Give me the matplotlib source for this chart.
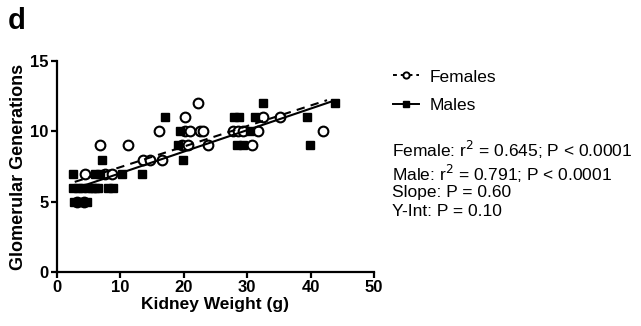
import numpy as np
import matplotlib.pyplot as plt
from matplotlib.lines import Line2D

plt.rcParams['font.family'] = ['Liberation Sans', 'DejaVu Sans']

# Females (open circles)
female_x = [3.2, 4.2, 4.4, 7.6, 8.7, 6.8, 11.2, 13.6, 14.7, 16.6, 16.1, 20.2, 22.3,
            20.2, 21.0, 22.6, 23.1, 19.7, 20.7, 23.8, 27.8, 28.6, 29.4, 31.7, 30.8,
            32.5, 35.2, 42.0]
female_y = [5, 5, 7, 7, 7, 9, 9, 8, 8, 8, 10, 11, 12,
            10, 10, 10, 10, 9, 9, 9, 10, 10, 10, 10, 9,
            11, 11, 10]

# Males (filled squares)
male_x = [2.6, 6.0, 6.8, 10.3, 13.4, 2.6, 3.3, 3.9, 4.9, 5.5, 6.0, 6.5, 8.0, 8.8,
          2.7, 3.7, 4.7, 7.1, 17.0, 19.4, 19.1, 19.9, 28.0, 28.7, 31.2, 39.4,
          30.4, 28.4, 29.3, 39.9, 32.5, 43.8]
male_y = [7, 7, 7, 7, 7, 6, 6, 6, 6, 6, 6, 6, 6, 6,
          5, 5, 5, 8, 11, 10, 9, 8, 11, 11, 11, 11,
          10, 9, 9, 9, 12, 12]

# regression lines (start x, end x, slope, intercept)
female_fit = (2.8, 42.6, 0.146, 6.0)
male_fit = (2.8, 43.8, 0.153, 5.5)

fig = plt.figure(figsize=(6.41, 3.26), dpi=100)
ax = fig.add_axes([0.0889, 0.1656, 0.4945, 0.647])

ax.plot(female_x, female_y, 'o', mfc='white', mec='black', mew=1.5, ms=7, clip_on=False)
ax.plot(male_x, male_y, 's', color='black', ms=5.5, clip_on=False)

fx = np.array(female_fit[:2])
ax.plot(fx, female_fit[2] * fx + female_fit[3], '--', color='black', lw=1.5, dashes=(4, 3))
mx = np.array(male_fit[:2])
ax.plot(mx, male_fit[2] * mx + male_fit[3], '-', color='black', lw=1.5)

ax.set_xlim(0, 50)
ax.set_ylim(0, 15)
ax.set_xticks([0, 10, 20, 30, 40, 50])
ax.set_yticks([0, 5, 10, 15])
ax.spines['top'].set_visible(False)
ax.spines['right'].set_visible(False)
ax.spines['left'].set_linewidth(1.6)
ax.spines['bottom'].set_linewidth(1.6)
ax.tick_params(width=1.6, length=4, labelsize=12, pad=2)
for lab in ax.get_xticklabels() + ax.get_yticklabels():
    lab.set_fontweight('bold')
ax.set_xlabel('Kidney Weight (g)', fontsize=12.5, fontweight='bold', labelpad=1)
ax.set_ylabel('Glomerular Generations', fontsize=13, fontweight='bold', labelpad=2)

fig.text(0.012, 0.935, 'd', fontsize=21, fontweight='bold', va='center')

handles = [
    Line2D([], [], ls='--', color='black', lw=1.4, dashes=(2, 2), marker='o',
           mfc='white', mec='black', mew=1.4, ms=4.5),
    Line2D([], [], ls='-', color='black', lw=1.4, marker='s', ms=4.5),
]
fig.legend(handles, ['Females', 'Males'], loc='upper left',
           bbox_to_anchor=(0.589, 0.835), frameon=False, fontsize=12.5,
           handlelength=1.5, labelspacing=0.75, handletextpad=0.6)

stats = ['Female: r$^2$ = 0.645; P < 0.0001',
         'Male: r$^2$ = 0.791; P < 0.0001',
         'Slope: P = 0.60',
         'Y-Int: P = 0.10']
ypos = [150, 174, 193, 212]
for s, yp in zip(stats, ypos):
    fig.text(392 / 641, 1 - yp / 326, s, fontsize=12.5, va='center')

fig.savefig('out.png', dpi=100)
